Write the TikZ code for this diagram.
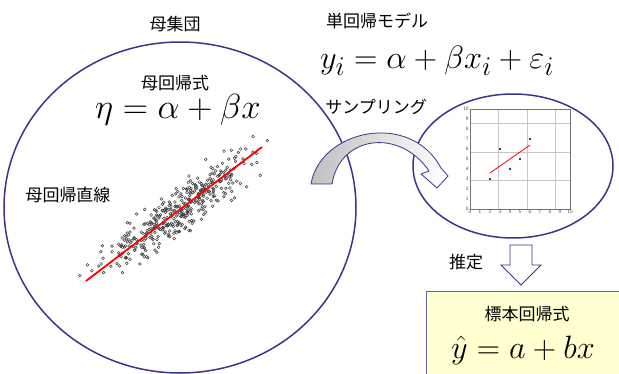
\documentclass[tikz,border=0pt]{standalone}
\usepackage{graphicx}
\usepackage{fontspec}
\newfontfamily\jp{Noto Sans CJK JP}
\usetikzlibrary{shapes.geometric}
\definecolor{navy}{RGB}{55,55,140}
\definecolor{boxyellow}{RGB}{255,255,208}
\definecolor{boxline}{RGB}{100,100,165}
\newcommand{\myEq}[2]{\scalebox{#1}{$#2$}}
\tikzset{
  jtext/.style={inner sep=0pt, font=\jp\fontsize{17}{19}\selectfont},
  eqtext/.style={inner sep=0pt, font=\fontsize{24.88}{26}\selectfont},
  bigshape/.style={draw=navy, line width=1.5pt, ellipse, inner sep=0pt},
  dotmark/.style={draw=black!75, line width=0.5pt},
  axlabel/.style={inner sep=1.2pt, font=\sffamily\fontsize{5}{5}\selectfont, text=black!70},
  blockarrow/.style={draw=navy, line width=0.8pt}
}
\begin{document}
\begin{tikzpicture}[x=1pt,y=-1pt]
\useasboundingbox (0,0) rectangle (619,374);
\fill[white] (0,0) rectangle (619,374);

% population ellipse and sample ellipse
\node (pop) [bigshape, minimum width=352pt, minimum height=331pt] at (180,207.5) {};
\node (samp) [bigshape, minimum width=200pt, minimum height=144pt] at (513,166) {};

% estimate box
\node (est) [draw=boxline, line width=0.9pt, fill=boxyellow, anchor=north west,
  minimum width=210pt, minimum height=100pt, inner sep=0pt] at (426,291) {};

% texts
\node (popt) [jtext] at (175,24) {母集団};
\node (popf) [jtext] at (175,83) {母回帰式};
\node (popeq) [eqtext] at (178,110) {\myEq{1.4}{\eta = \alpha + \beta x}};
\node (popl) [jtext] at (68,195) {母回帰直線};
\node (modt) [jtext] at (377,21) {単回帰モデル};
\node (modeq) [eqtext] at (437,61) {\myEq{1.3}{y_i = \alpha + \beta x_i + \varepsilon_i}};
\node (sampt) [jtext] at (376,107) {サンプリング};
\node (estt) [jtext] at (466,262) {推定};
\node (estf) [jtext] at (527,314) {標本回帰式};
\node (esteq) [eqtext] at (523,350) {\myEq{1.3}{\hat{y} = a + bx}};

% scatter
\pgfmathsetseed{17}
\foreach \i in {1,...,400}{
  \pgfmathsetmacro\tt{0.5+0.2*(rand+rand+rand)}
  \pgfmathsetmacro\ss{9.5*(rand+rand+rand)}
  \draw[dotmark] ({86+176*\tt+0.606*\ss},{281-134*\tt+0.796*\ss}) circle (1.4pt);
}
\coordinate (la) at (86,281);
\coordinate (lb) at (262,147);
\draw[red, line width=1.8pt] (la) -- (lb);

% sample plot
\begin{scope}[shift={(470,209)}, x=10pt, y=10pt]
  \draw[black!22, line width=0.4pt] (0,0) grid (10,10);
  \draw[black!55, line width=0.5pt] (0,0) rectangle (10,10);
  \foreach \k in {0,...,10}{
    \node[axlabel, anchor=east] at (0,\k) {\k};
    \node[axlabel, anchor=north] at (\k,0) {\k};
  }
  \foreach \p in {(2,3),(3,6),(4,4),(5,5),(6,7)} \fill[black] \p circle (1.2pt);
  \coordinate (ra) at (2,3.6);
  \coordinate (rb) at (6,6.4);
  \draw[red, line width=0.8pt] (ra) -- (rb);
\end{scope}

% curved sampling arrow
\draw[blockarrow, left color=black!25, right color=white]
  (311,184) .. controls (320,130) and (410,110) .. (441,168)
  -- (448,176) -- (437,188) -- (421,174) -- (429,171)
  .. controls (400,128) and (340,135) .. (332,184) -- cycle;

% estimation arrow
\draw[blockarrow, fill=white]
  (510,245) -- (532,245) -- (532,265) -- (541,265) -- (521,285)
  -- (501,265) -- (510,265) -- cycle;
\end{tikzpicture}
\end{document}
